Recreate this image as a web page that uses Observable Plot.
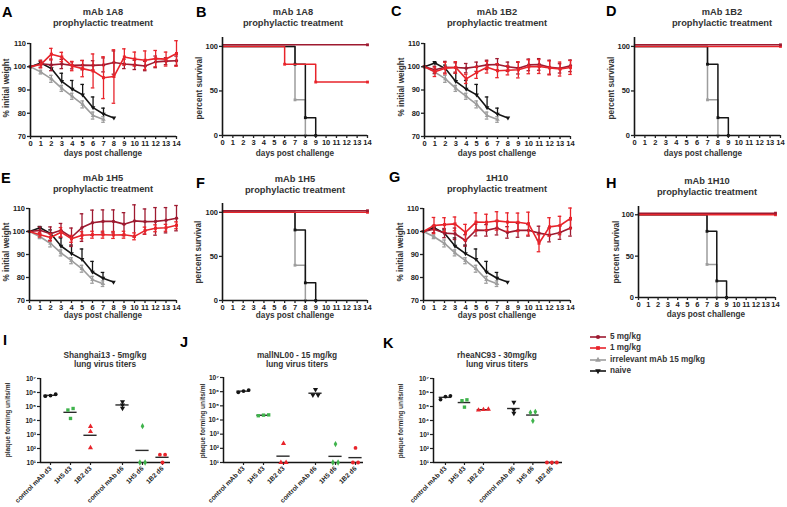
<!DOCTYPE html>
<html><head><meta charset="utf-8">
<script src="https://cdn.jsdelivr.net/npm/d3@7"></script>
<script src="https://cdn.jsdelivr.net/npm/@observablehq/plot@0.6"></script>
<style>
body{margin:0;background:#fff;font-family:"Liberation Sans",Arial,sans-serif;}
#root{position:relative;width:787px;height:507px;overflow:hidden;background:#fff;}
</style></head>
<body><div id="root"></div>
<script>
// ---------------- DATA ----------------
const days = d3.range(0, 15);
const weightTicks = [70, 80, 90, 100, 110];
const survivalTicks = [0, 50, 100];

// shared control groups (weight, % initial)
const naiveWeight = [100, 101.6, 99.2, 93.7, 90.4, 87.9, 82.4, 79.7, 78.0];
const naiveErr    = [0, 0.6, 1.5, 3.5, 3.7, 4.5, 4.6, 2.5, 0];
const irrelevantWeight = [100, 97.7, 94.8, 90.7, 87.3, 83.8, 79.0, 77.3];
const irrelevantErr    = [0, 0.8, 1.5, 1.3, 1.3, 1.5, 1.5, 1.2];

// mAb 1A8
const w1A8_5mg = [100, 101.3, 100.8, 101.2, 100.6, 100.7, 100.6, 100.8, 101.8, 101.2, 100.8, 100.3, 102.1, 102.4, 102.6];
const e1A8_5mg = [0, 1.5, 2.5, 2, 1.5, 2, 2, 3, 5, 2, 2, 2, 2.5, 1.5, 2];
const w1A8_1mg = [100, 101, 105.4, 104.2, 100.3, 99.2, 98.2, 95.3, 95.8, 104.2, 103.3, 102.8, 103.5, 103.3, 105.7];
const e1A8_1mg = [0, 1.5, 2.5, 2, 2, 3.5, 7.3, 9, 11.5, 3.5, 3, 4, 3.5, 3, 5.5];
// mAb 1B2
const w1B2_5mg = [100, 98.7, 99.8, 99.7, 99.4, 100, 100.8, 101, 100, 99.4, 100.8, 101, 99.8, 99.3, 100.4];
const e1B2_5mg = [0, 1.5, 2.5, 2, 2, 2, 2, 2.5, 2, 2.5, 2.5, 2.5, 3, 2, 2.5];
const w1B2_1mg = [100, 97.8, 99.4, 99.7, 94.8, 97.5, 99.8, 98.3, 98.5, 98.7, 100, 100.1, 99.5, 99, 99.7];
const e1B2_1mg = [0, 2, 2.5, 2.5, 2, 2.5, 2.5, 3, 2, 3.5, 3, 3, 3, 3, 3];
// mAb 1H5
const w1H5_5mg = [100, 100.5, 99, 100.5, 97.5, 101.7, 103.8, 104.4, 104.4, 103.2, 104.6, 104.3, 104.4, 104.9, 105.8];
const e1H5_5mg = [0, 1.5, 3, 3, 4, 6, 5.5, 5, 5, 5, 7, 5.5, 6, 5.5, 5.5];
const w1H5_1mg = [100, 98.6, 97.4, 99.7, 96.8, 98.4, 98.6, 98.6, 98.5, 98.6, 97.9, 100.4, 101.4, 101.6, 102.7];
const e1H5_1mg = [0, 1, 1.5, 2, 1.5, 1.5, 1.5, 1.5, 1.5, 1.5, 1.5, 1.5, 1.5, 1.5, 1.5];
// mAb 1H10
const w1H10_5mg = [100, 101, 99.3, 99, 96.1, 100.6, 100.5, 101.5, 99.6, 100.5, 100.5, 99.3, 98.5, 99.6, 101.5];
const e1H10_5mg = [0, 1.5, 2, 2.5, 2.5, 2.5, 2.5, 3, 2.5, 3, 2.5, 3, 3, 3, 3.5];
const w1H10_1mg = [100, 102.6, 103, 103.3, 99.6, 104.1, 104, 104.6, 104.1, 104, 103.4, 94.9, 102, 102.6, 105.7];
const e1H10_1mg = [0, 3.5, 3, 3, 3.5, 4, 3.5, 4, 4, 4, 5, 3.7, 4, 4, 4.5];

// survival (%), step points
const survNaiveDays = [0, 7, 8, 9],  survNaivePct = [100, 80, 20, 0];
const survIrrelevantDays = [0, 7, 8], survIrrelevantPct = [100, 40, 0];
const surv1A8_5mgDays = [0, 14], surv1A8_5mgPct = [100, 100];
const surv1A8_1mgDays = [0, 6, 9, 14], surv1A8_1mgPct = [100, 80, 60, 60];
const surv1B2_5mgDays = [0, 14], surv1B2_5mgPct = [100, 100];
const surv1B2_1mgDays = [0, 14], surv1B2_1mgPct = [100, 100];
const surv1H5_5mgDays = [0, 14], surv1H5_5mgPct = [100, 100];
const surv1H5_1mgDays = [0, 14], surv1H5_1mgPct = [100, 100];
const surv1H10_5mgDays = [0, 14], surv1H10_5mgPct = [100, 100];
const surv1H10_1mgDays = [0, 14], surv1H10_1mgPct = [100, 100];

// lung virus titers (PFU/ml), 3 mice per group
const titerGroups = ["control mAb d3", "1H5 d3", "1B2 d3", "control mAb d6", "1H5 d6", "1B2 d6"];
const titerTicks = [1e1, 1e2, 1e3, 1e4, 1e5, 1e6, 1e7];
const titersShanghai13 = [[7.5e5, 5.5e5, 6e5], [7.2e4, 5.6e4, 1.4e4], [3.7e3, 1.6e3, 115], [2.2e5, 1.3e5, 7.5e4], [3.9e3, 10, 10], [36, 36, 10]];
const titersMallNL00   = [[1.3e6, 9e5, 1.1e6], [2.2e4, 2.0e4, 2.3e4], [220, 10, 10], [1.4e6, 5.8e5, 5.8e5], [200, 10, 10], [107, 10, 10]];
const titersRheaNC93   = [[5.8e5, 3.1e5, 5.1e5], [3.0e5, 2.6e5, 9e4], [6.3e4, 5.5e4, 6e4], [2e5, 3.3e4, 5.6e4], [4.2e4, 3.7e4, 9.5e3], [10, 10, 10]];

const legendLabels = ["5 mg/kg", "1 mg/kg", "irrelevant mAb 15 mg/kg", "naive"];

// ---------------- STYLE / LAYOUT ----------------
const FONT = "'Liberation Sans', Arial, Helvetica, sans-serif";
const TXT = "#222";
const DARKRED = "#9e1a30", RED = "#e8242b", GRAY = "#9d9d9d", BLACK = "#151515", GREEN = "#3fb34c";
const groupPos = [0, 1, 2, 3.6, 4.6, 5.6];
const groupColor = [BLACK, GREEN, RED, BLACK, GREEN, RED];
const groupSymbol = ["circle", "square", "triangle", "triangle", "diamond", "circle"];
const groupRotate = [0, 0, 0, 180, 0, 0];

const root = document.getElementById("root");
function put(node, left, top) {
  node.style.position = "absolute";
  node.style.left = left + "px";
  node.style.top = top + "px";
  root.appendChild(node);
}
function label(str, x, y, size, opts = {}) {
  const d = document.createElement("div");
  d.textContent = str;
  const tx = opts.start ? "0" : "-50%";
  Object.assign(d.style, {
    position: "absolute", left: x + "px", top: y + "px", fontSize: size + "px",
    fontWeight: "bold", color: opts.color || TXT, whiteSpace: "nowrap", lineHeight: "1",
    fontFamily: FONT,
    transform: `translate(${tx},-50%)` + (opts.rotate ? " rotate(-90deg)" : "")
  });
  root.appendChild(d);
}
const svgStyle = (fs) => ({fontFamily: FONT, fontSize: fs + "px", fontWeight: "bold", color: TXT, background: "transparent", overflow: "visible"});

function seriesMarks(values, errs, color, symbol, rotate, upperOnly) {
  const rows = values.map((v, i) => ({day: days[i], v, lo: v - errs[i], hi: v + errs[i], e: errs[i]}));
  const withErr = rows.filter(r => r.e > 0);
  const m = [
    Plot.ruleX(withErr, {x: "day", y1: upperOnly ? "v" : "lo", y2: "hi", stroke: color, strokeWidth: 1.3}),
    Plot.ruleY(withErr, {y: "hi", x1: r => r.day - 0.17, x2: r => r.day + 0.17, stroke: color, strokeWidth: 1.3})
  ];
  if (!upperOnly) m.push(Plot.ruleY(withErr, {y: "lo", x1: r => r.day - 0.17, x2: r => r.day + 0.17, stroke: color, strokeWidth: 1.3}));
  m.push(Plot.line(rows, {x: "day", y: "v", stroke: color, strokeWidth: 1.6}));
  m.push(Plot.dot(rows, {x: "day", y: "v", fill: color, symbol, r: 1.7, rotate}));
  return m;
}

function weightPanel(g, w5, e5, w1, e1) {
  const ml = 30, mt = 8, mr = 10, mb = 14;
  const svg = Plot.plot({
    width: g.x14 - g.x0 + ml + mr, height: g.yBot - g.yTop + mt + mb,
    marginLeft: ml, marginTop: mt, marginRight: mr, marginBottom: mb,
    x: {domain: [0, 14]}, y: {domain: [70, 110]},
    style: svgStyle(7.5),
    marks: [
      ...seriesMarks(irrelevantWeight, irrelevantErr, GRAY, "triangle", 0, false),
      ...seriesMarks(naiveWeight, naiveErr, BLACK, "triangle", 180, true),
      ...seriesMarks(w5, e5, DARKRED, "circle", 0, false),
      ...seriesMarks(w1, e1, RED, "square", 0, false),
      Plot.ruleX([0], {stroke: BLACK, strokeWidth: 1.6}),
      Plot.ruleY([70], {stroke: BLACK, strokeWidth: 1.6}),
      Plot.axisX({ticks: days, tickSize: 3, tickPadding: 1.5, label: null, strokeWidth: 1.3}),
      Plot.axisY({ticks: weightTicks, tickSize: 3, tickPadding: 1.5, label: null, strokeWidth: 1.3})
    ]
  });
  put(svg, g.x0 - ml, g.yTop - mt);
}

function stepMarks(dd, pp, color, dy) {
  const rows = dd.map((d, i) => ({day: d, pct: pp[i]}));
  return [
    Plot.line(rows, {x: "day", y: "pct", curve: "step-after", stroke: color, strokeWidth: 1.5, dy}),
    Plot.dot(rows.slice(1), {x: "day", y: "pct", fill: color, symbol: "square", r: 1.6, dy})
  ];
}

function survivalPanel(g, d5, p5, d1, p1) {
  const ml = 30, mt = 2, mr = 7, mb = 14;
  const svg = Plot.plot({
    width: g.x14 - g.x0 + ml + mr, height: g.yBot - g.yTop + mt + mb,
    marginLeft: ml, marginTop: mt, marginRight: mr, marginBottom: mb,
    x: {domain: [0, 14]}, y: {domain: [0, 110]},
    style: svgStyle(7.5),
    marks: [
      ...stepMarks(survIrrelevantDays, survIrrelevantPct, GRAY, 0),
      ...stepMarks(survNaiveDays, survNaivePct, BLACK, 0),
      ...stepMarks(d1, p1, RED, 0),
      ...stepMarks(d5, p5, DARKRED, -1.6),
      Plot.ruleX([0], {stroke: BLACK, strokeWidth: 1.6}),
      Plot.ruleY([0], {stroke: BLACK, strokeWidth: 1.6}),
      Plot.axisX({ticks: days, tickSize: 3, tickPadding: 1.5, label: null, strokeWidth: 1.3}),
      Plot.axisY({ticks: survivalTicks, tickSize: 3, tickPadding: 1.5, label: null, strokeWidth: 1.3})
    ]
  });
  put(svg, g.x0 - ml, g.yTop - mt);
}

const supDigits = {"1": "¹", "2": "²", "3": "³", "4": "⁴", "5": "⁵", "6": "⁶", "7": "⁷"};
function spread(vals) {
  const logs = vals.map(Math.log10);
  const idx = d3.range(vals.length).sort((a, b) => logs[a] - logs[b]);
  const off = new Array(vals.length).fill(0);
  let cluster = [idx[0]];
  const flush = () => cluster.forEach((k, j) => off[k] = (j - (cluster.length - 1) / 2) * 0.26);
  for (let t = 1; t < idx.length; t++) {
    if (logs[idx[t]] - logs[cluster[cluster.length - 1]] < 0.22) cluster.push(idx[t]);
    else { flush(); cluster = [idx[t]]; }
  }
  flush();
  return off;
}

function titerPanel(g, titers) {
  const ml = 20, mt = 6, mr = 6, mb = 45;
  const marks = [];
  titers.forEach((vals, gi) => {
    const off = spread(vals);
    const gm = Math.pow(10, d3.mean(vals, v => Math.log10(v)));
    marks.push(Plot.ruleY([gm], {x1: groupPos[gi] - 0.33, x2: groupPos[gi] + 0.33, stroke: "#2a2a2a", strokeWidth: 1.4}));
    const pts = vals.map((v, k) => ({x: groupPos[gi] + off[k], v}));
    marks.push(Plot.dot(pts, {x: "x", y: "v", fill: groupColor[gi], symbol: groupSymbol[gi], r: 1.9, rotate: groupRotate[gi]}));
  });
  const svg = Plot.plot({
    width: g.xr - g.xl + ml + mr, height: g.yBot - g.yTop + mt + mb,
    marginLeft: ml, marginTop: mt, marginRight: mr, marginBottom: mb,
    x: {domain: g.domain}, y: {type: "log", domain: [10, 1e7]},
    style: svgStyle(6.6),
    marks: [
      Plot.ruleX([g.domain[0]], {stroke: BLACK, strokeWidth: 1.5}),
      Plot.ruleY([10], {stroke: BLACK, strokeWidth: 1.5}),
      Plot.axisX({ticks: groupPos, tickFormat: d => titerGroups[groupPos.indexOf(d)], tickRotate: -45, tickSize: 3, tickPadding: 2, label: null, strokeWidth: 1.2}),
      Plot.axisY({ticks: titerTicks, tickFormat: d => "10" + supDigits[String(Math.round(Math.log10(d)))], tickSize: 3, tickPadding: 1.5, label: null, strokeWidth: 1.2}),
      ...marks
    ]
  });
  put(svg, g.xl - ml, g.yTop - mt);
}

// ---------------- PANELS ----------------
weightPanel({x0: 30, x14: 176, yTop: 43, yBot: 136}, w1A8_5mg, e1A8_5mg, w1A8_1mg, e1A8_1mg);
survivalPanel({x0: 222, x14: 367, yTop: 37, yBot: 135}, surv1A8_5mgDays, surv1A8_5mgPct, surv1A8_1mgDays, surv1A8_1mgPct);
weightPanel({x0: 424, x14: 570, yTop: 43, yBot: 136}, w1B2_5mg, e1B2_5mg, w1B2_1mg, e1B2_1mg);
survivalPanel({x0: 634, x14: 780, yTop: 37, yBot: 135}, surv1B2_5mgDays, surv1B2_5mgPct, surv1B2_1mgDays, surv1B2_1mgPct);
weightPanel({x0: 29, x14: 176, yTop: 208, yBot: 300}, w1H5_5mg, e1H5_5mg, w1H5_1mg, e1H5_1mg);
survivalPanel({x0: 222, x14: 367, yTop: 203, yBot: 300}, surv1H5_5mgDays, surv1H5_5mgPct, surv1H5_1mgDays, surv1H5_1mgPct);
weightPanel({x0: 423, x14: 570, yTop: 208, yBot: 300}, w1H10_5mg, e1H10_5mg, w1H10_1mg, e1H10_1mg);
survivalPanel({x0: 638, x14: 775, yTop: 206, yBot: 297}, surv1H10_5mgDays, surv1H10_5mgPct, surv1H10_1mgDays, surv1H10_1mgPct);

titerPanel({xl: 40, xr: 170, yTop: 378, yBot: 462, domain: [-0.5, 6.0]}, titersShanghai13);
titerPanel({xl: 223, xr: 363, yTop: 377, yBot: 462, domain: [-1.0, 6.0]}, titersMallNL00);
titerPanel({xl: 433, xr: 562, yTop: 378, yBot: 462, domain: [-0.63, 6.16]}, titersRheaNC93);

// ---------------- TEXT ----------------
const letters = [["A", 2, 12], ["B", 196, 12], ["C", 391, 11], ["D", 606, 11], ["E", 1, 178], ["F", 196, 183], ["G", 389, 177], ["H", 606, 183], ["I", 3, 340], ["J", 180, 342], ["K", 383, 343]];
letters.forEach(([t, x, y]) => label(t, x, y, 14.5, {start: true, color: "#000"}));

const titles = [
  ["mAb 1A8", "prophylactic treatment", 103, 13],
  ["mAb 1A8", "prophylactic treatment", 293, 13],
  ["mAb 1B2", "prophylactic treatment", 497, 13],
  ["mAb 1B2", "prophylactic treatment", 722, 13],
  ["mAb 1H5", "prophylactic treatment", 103, 179],
  ["mAb 1H5", "prophylactic treatment", 295, 180],
  ["1H10", "prophylactic treatment", 497, 179],
  ["mAb 1H10", "prophylactic treatment", 707, 182]
];
titles.forEach(([a, b, x, y]) => { label(a, x, y, 9.3, {color: "#333"}); label(b, x, y + 10.5, 9.3, {color: "#333"}); });

const titerTitles = [["Shanghai13 - 5mg/kg", 105], ["mallNL00 - 15 mg/kg", 297], ["rheaNC93 - 30mg/kg", 497]];
titerTitles.forEach(([a, x]) => { label(a, x, 355, 8.3, {color: "#333"}); label("lung virus titers", x, 364, 8.3, {color: "#333"}); });

[[103, 154], [295, 154], [497, 154], [703, 154], [103, 316], [295, 316], [497, 316], [706, 315]]
  .forEach(([x, y]) => label("days post challenge", x, y, 8.2, {color: "#333"}));
[[7, 88], [402, 87], [7, 252], [401, 252]].forEach(([x, y]) => label("% initial weight", x, y, 8.2, {rotate: true, color: "#333"}));
[[200, 88], [612, 88], [199, 252], [617, 252]].forEach(([x, y]) => label("percent survival", x, y, 8.2, {rotate: true, color: "#333"}));
[[8, 420], [203, 421], [401, 421]].forEach(([x, y]) => label("plaque forming units/ml", x, y, 6.6, {rotate: true, color: "#333"}));

// ---------------- LEGEND ----------------
const legendColors = [DARKRED, RED, GRAY, BLACK];
const legendSym = [d3.symbolCircle, d3.symbolSquare, d3.symbolTriangle, d3.symbolTriangle];
const legendRot = [0, 0, 0, 180];
legendLabels.forEach((t, i) => {
  const y = 337 + i * 11.3;
  const ns = "http://www.w3.org/2000/svg";
  const s = document.createElementNS(ns, "svg");
  s.setAttribute("width", 20); s.setAttribute("height", 10);
  const ln = document.createElementNS(ns, "line");
  ln.setAttribute("x1", 1); ln.setAttribute("x2", 17); ln.setAttribute("y1", 5); ln.setAttribute("y2", 5);
  ln.setAttribute("stroke", legendColors[i]); ln.setAttribute("stroke-width", 1.6);
  s.appendChild(ln);
  const p = document.createElementNS(ns, "path");
  p.setAttribute("d", d3.symbol(legendSym[i], 14)());
  p.setAttribute("transform", `translate(9,5) rotate(${legendRot[i]})`);
  p.setAttribute("fill", legendColors[i]);
  s.appendChild(p);
  put(s, 589, y - 5);
  label(t, 610, y, 8.2, {start: true, color: "#333"});
});
</script>
</body></html>
